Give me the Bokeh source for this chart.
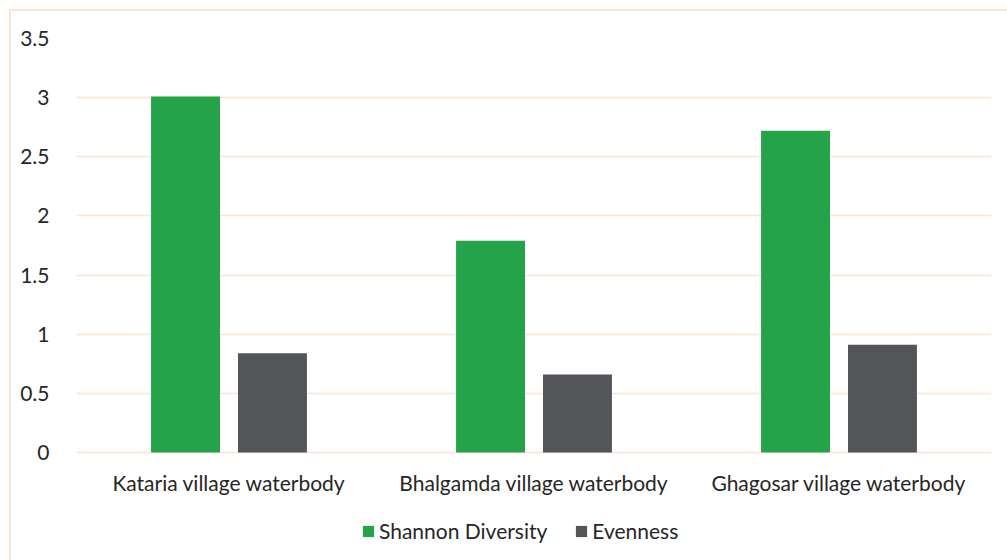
from bokeh.plotting import figure
from bokeh.models import ColumnDataSource, FactorRange, FixedTicker, Legend, LegendItem, InlineStyleSheet
from bokeh.core.properties import value
from bokeh.transform import dodge
from bokeh.embed import file_html
from bokeh.resources import INLINE

categories = ["Kataria village waterbody", "Bhalgamda village waterbody", "Ghagosar village waterbody"]
shannon = [3.01, 1.79, 2.72]
evenness = [0.84, 0.66, 0.91]
y_ticks = [0, 0.5, 1, 1.5, 2, 2.5, 3, 3.5]
y_tick_labels = ["0", "0.5", "1", "1.5", "2", "2.5", "3", "3.5"]
series_names = ["Shannon Diversity", "Evenness"]

src = ColumnDataSource(data=dict(cat=categories, shannon=shannon, evenness=evenness,
                                 zero=[0] * len(categories)))

FONT = "Lato"
FS = "21px"
TXT = "#262626"
PEACH = "#fce4d6"

# frame: top at 38px (3.5), zero line at 452px, frame bottom at canvas bottom (560px)
px_per_unit = (452 - 38) / 3.5
y_start = -(560 - 452) / px_per_unit

p = figure(x_range=FactorRange(factors=categories), y_range=(y_start, 3.5),
           width=1007, height=560, output_backend="svg", toolbar_location=None,
           min_border_left=76, min_border_right=16, min_border_top=38, min_border_bottom=0)
p.border_fill_alpha = 0
p.stylesheets = [InlineStyleSheet(css=(
    ":host { background: "
    "linear-gradient(#fce4d6, #fce4d6) 9px 9px / 2px 100% no-repeat, "
    "linear-gradient(#fce4d6, #fce4d6) 9px 9px / 100% 2px no-repeat, white; }"))]

r1 = p.vbar(x=dodge("cat", -0.1425, range=p.x_range), top="shannon", width=0.226,
            source=src, fill_color="#24a34a", line_color=None)
r2 = p.vbar(x=dodge("cat", 0.1425, range=p.x_range), top="evenness", width=0.226,
            source=src, fill_color="#545559", line_color=None)

# category labels under the zero line
p.text(x="cat", y="zero", text="cat", source=src, y_offset=30,
       text_font=value(FONT), text_font_size=value(FS), text_color=TXT,
       text_align="center", text_baseline="middle")

p.outline_line_color = None
p.xgrid.grid_line_color = None
p.ygrid.grid_line_color = PEACH
p.ygrid.grid_line_width = 1.5
p.ygrid.ticker = FixedTicker(ticks=y_ticks)

p.xaxis.visible = False

p.yaxis.ticker = FixedTicker(ticks=y_ticks)
p.yaxis.major_label_overrides = {t: l for t, l in zip(y_ticks, y_tick_labels)}
p.yaxis.axis_line_color = None
p.yaxis.major_tick_line_color = None
p.yaxis.minor_tick_line_color = None
p.yaxis.major_label_standoff = 21
p.yaxis.major_label_text_font = FONT
p.yaxis.major_label_text_font_size = FS
p.yaxis.major_label_text_color = TXT

legend = Legend(items=[LegendItem(label=series_names[0], renderers=[r1]),
                       LegendItem(label=series_names[1], renderers=[r2])],
                location=(285, 17), orientation="horizontal",
                label_text_font=FONT, label_text_font_size=FS, label_text_color=TXT,
                glyph_width=14, glyph_height=14, label_standoff=4, spacing=27,
                padding=0, margin=0, border_line_color=None, background_fill_alpha=0)
p.add_layout(legend, "center")

open("out.html", "w").write(file_html(p, INLINE))
